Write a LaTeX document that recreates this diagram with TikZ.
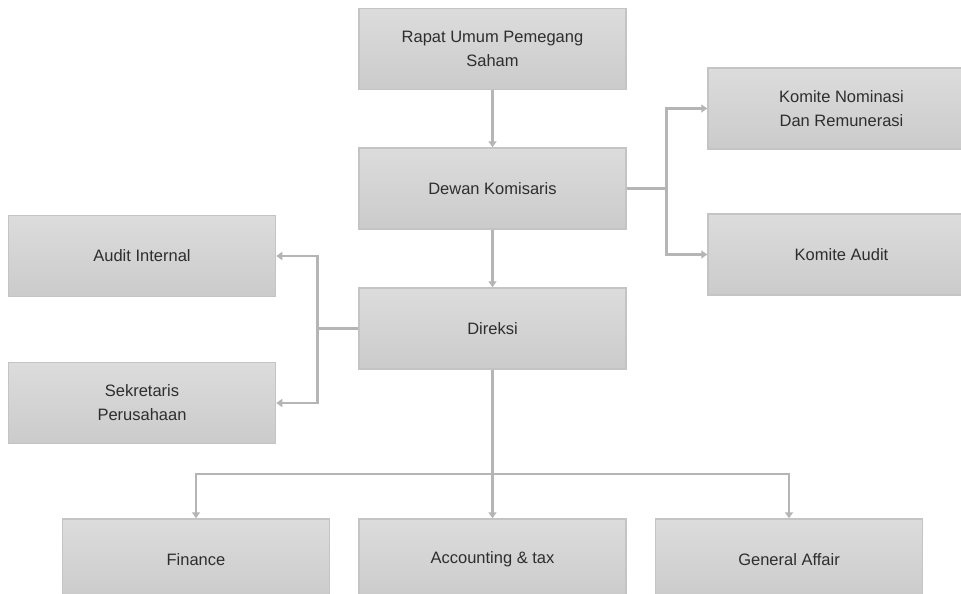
\documentclass[tikz,border=0pt]{standalone}
\usepackage{fontspec}
\setmainfont{Liberation Sans}
\usetikzlibrary{arrows.meta}
\definecolor{boxtop}{HTML}{DCDCDC}
\definecolor{boxbot}{HTML}{CBCBCB}
\definecolor{boxline}{HTML}{C4C4C4}
\definecolor{conncol}{HTML}{B5B5B5}
\definecolor{txtcol}{HTML}{2E2E2E}
\tikzset{
  orgbox/.style={rectangle, draw=boxline, line width=1.5pt, top color=boxtop, bottom color=boxbot,
    minimum width=267pt, minimum height=81pt, inner sep=0pt, align=center,
    text=txtcol, font=\fontsize{16.5}{24}\selectfont},
  conn/.style={draw=conncol, line width=2.8pt},
  arr/.style={conn, -{Triangle[width=8pt,length=6pt]}},
}
\begin{document}
\begin{tikzpicture}[x=1pt,y=-1pt]
\useasboundingbox (0,0) rectangle (961,594);
\fill[white] (0,0) rectangle (961,594);
\clip (0,0) rectangle (961,594);
\node[orgbox] (rups) at (492.5,49) {Rapat Umum Pemegang\\Saham};
\node[orgbox] (dewan) at (492.5,188.5) {Dewan Komisaris};
\node[orgbox] (direksi) at (492.5,328.5) {Direksi};
\node[orgbox] (nom) at (841.5,108.5) {Komite Nominasi\\Dan Remunerasi};
\node[orgbox] (kaudit) at (841.5,254.5) {Komite Audit};
\node[orgbox] (ai) at (142,256) {Audit Internal};
\node[orgbox] (sek) at (142,403) {Sekretaris\\Perusahaan};
\node[orgbox] (fin) at (196,559.5) {Finance};
\node[orgbox] (acc) at (492.5,559.5) {Accounting \& tax};
\node[orgbox] (ga) at (789,559.5) {General Affair};
\draw[arr] (rups) -- (dewan);
\draw[arr] (dewan) -- (direksi);
\draw[conn] (dewan.east) -- ++(40,0) coordinate (dk);
\draw[arr] (dk) |- (nom.west);
\draw[arr] (dk) |- (kaudit.west);
\draw[conn] (direksi.west) -- ++(-41,0) coordinate (dl);
\draw[arr] (dl) |- (ai.east);
\draw[arr] (dl) |- (sek.east);
\draw[conn] (direksi.south) -- (492.5,474) coordinate (db);
\draw[arr] (db) -- (acc.north);
\draw[arr] (db) -| (fin.north);
\draw[arr] (db) -| (ga.north);
\end{tikzpicture}
\end{document}
